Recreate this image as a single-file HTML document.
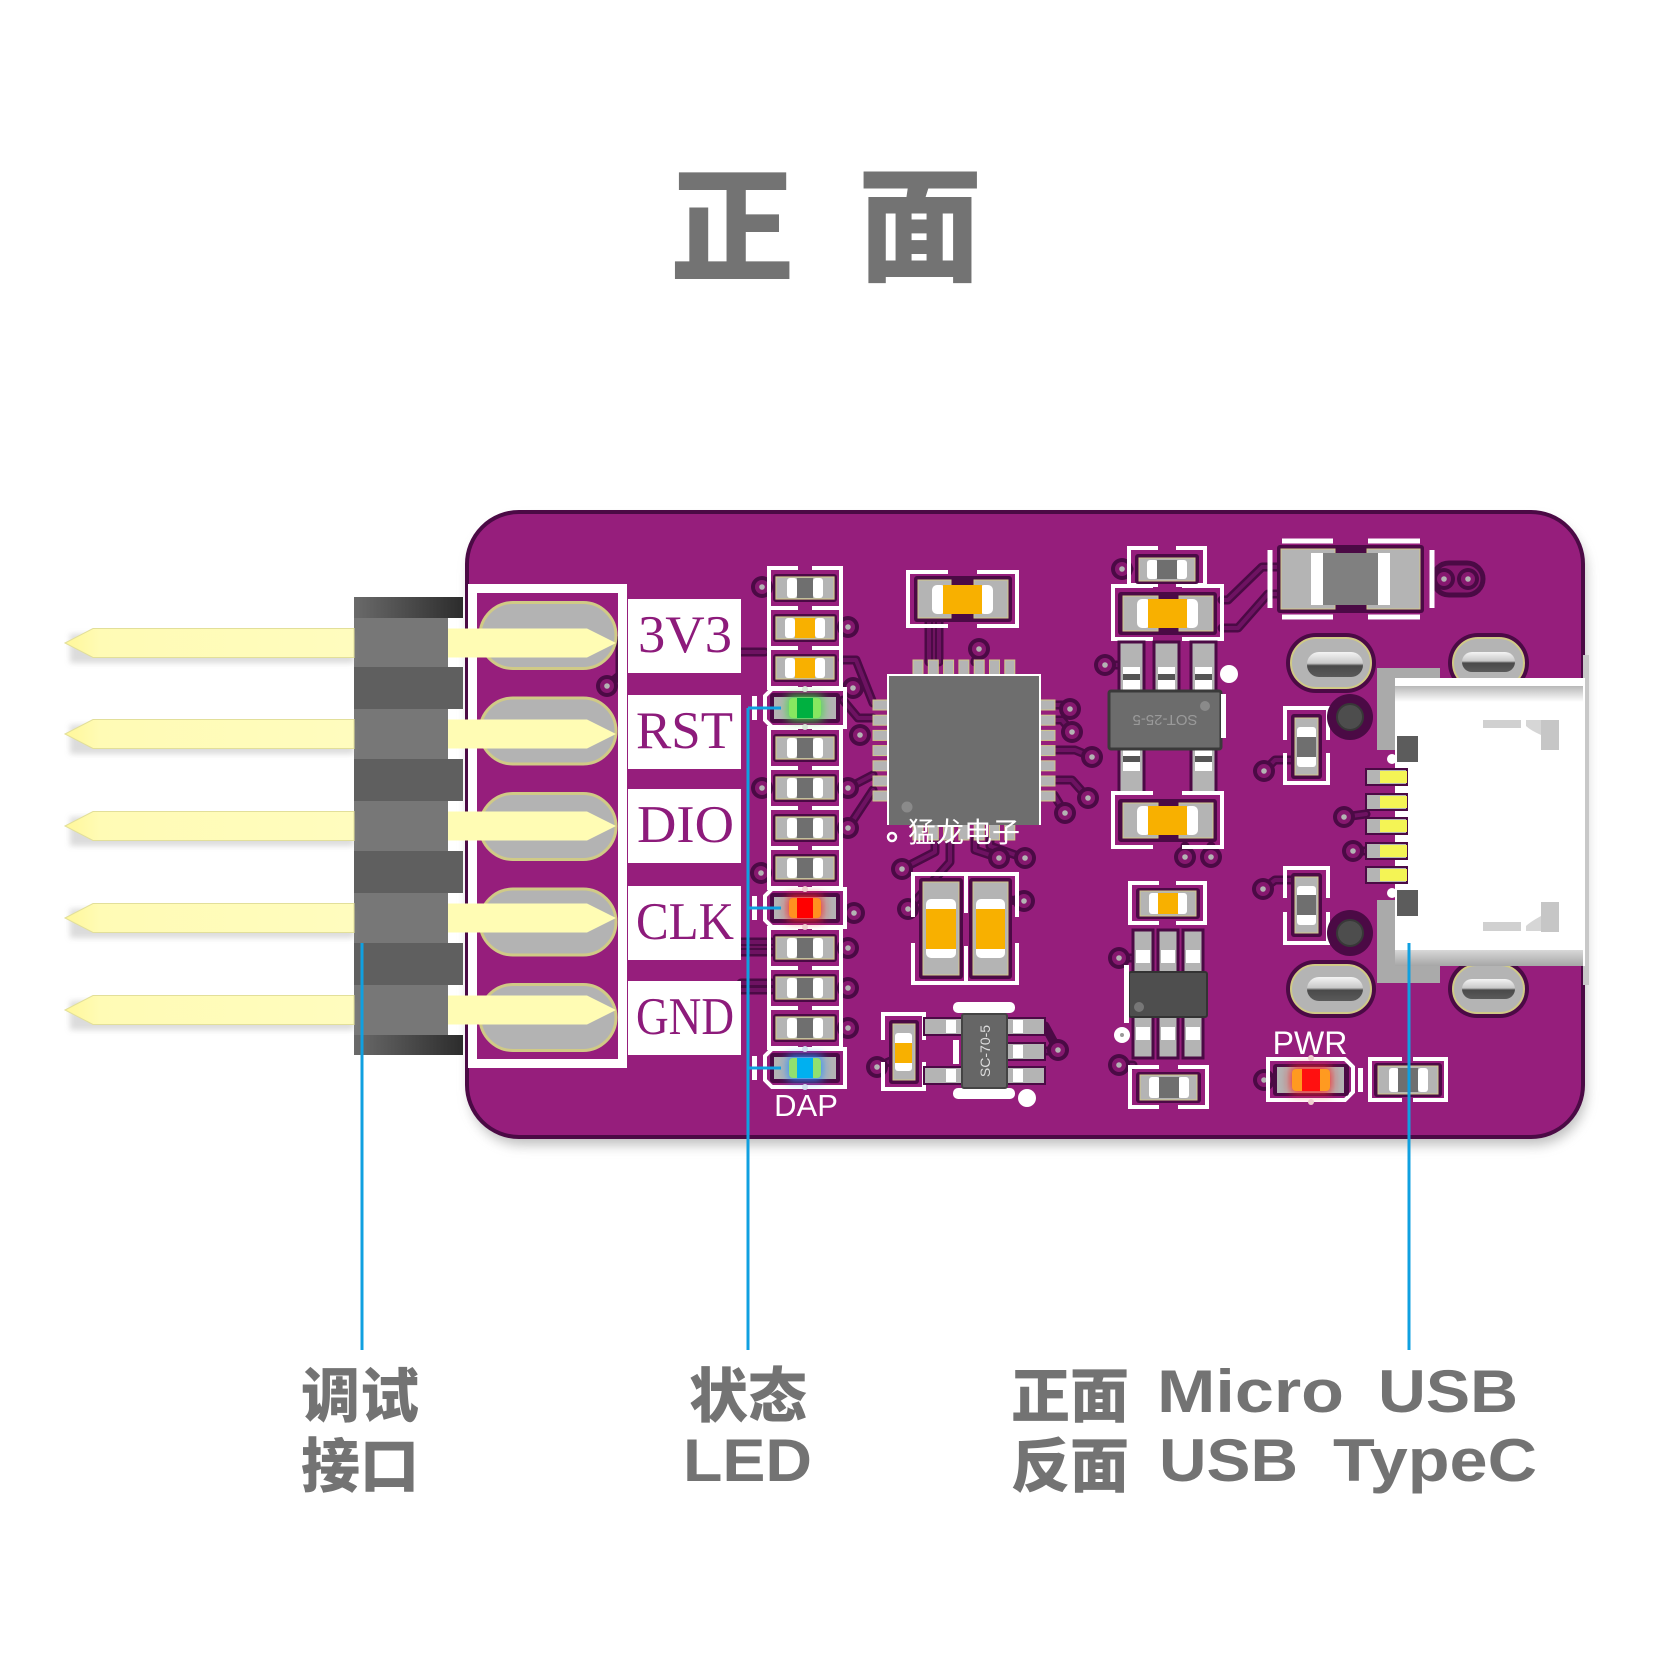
<!DOCTYPE html>
<html><head><meta charset="utf-8">
<style>
html,body{margin:0;padding:0;background:#fff;}
svg{display:block;}
</style></head><body>
<svg width="1653" height="1653" viewBox="0 0 1653 1653" xmlns="http://www.w3.org/2000/svg">
<defs>
 <filter id="blur6" x="-20%" y="-20%" width="140%" height="140%"><feGaussianBlur stdDeviation="6"/></filter>
 <filter id="blur3" x="-20%" y="-50%" width="140%" height="200%"><feGaussianBlur stdDeviation="3"/></filter>
 <filter id="glow" x="-100%" y="-100%" width="300%" height="300%"><feGaussianBlur stdDeviation="5"/></filter>
 <linearGradient id="pinG" x1="0" x2="1" y1="0" y2="0"><stop offset="0" stop-color="#fff799"/><stop offset="0.12" stop-color="#fffbb5"/><stop offset="1" stop-color="#fffcbe"/></linearGradient>
 <linearGradient id="topBlk" x1="0" x2="1" y1="0" y2="0"><stop offset="0" stop-color="#6a6a6a"/><stop offset="1" stop-color="#2c2c2c"/></linearGradient>
 <linearGradient id="slot" x1="0" x2="0" y1="0" y2="1"><stop offset="0" stop-color="#f4f4f4"/><stop offset="0.45" stop-color="#c9c9c9"/><stop offset="0.55" stop-color="#4a4a4a"/><stop offset="1" stop-color="#5a5a5a"/></linearGradient>
 <linearGradient id="usbTop" x1="0" x2="0" y1="0" y2="1"><stop offset="0" stop-color="#b8b8b8"/><stop offset="1" stop-color="#ffffff"/></linearGradient>
 <linearGradient id="usbBot" x1="0" x2="0" y1="0" y2="1"><stop offset="0" stop-color="#d8d8d8"/><stop offset="1" stop-color="#a6a6a6"/></linearGradient>
 <g id="via"><circle r="11" fill="#4b0a45"/><circle r="7" fill="#86186f"/><circle r="2.8" fill="#b4b4b4"/></g>
 <g id="r04">
  <path d="M-7,-20 H-36 V20 H-7 M7,-20 H36 V20 H7" stroke="#fff" stroke-width="4" fill="none"/>
  <rect x="-32" y="-14" width="64" height="28" rx="3" fill="#4b0a45"/>
  <rect x="-29" y="-11" width="58" height="22" fill="#b4b4b4" stroke="#cfc98a" stroke-width="1.2"/>
  <rect x="-18" y="-10" width="10" height="20" rx="3" fill="#fff"/>
  <rect x="8" y="-10" width="10" height="20" rx="3" fill="#fff"/>
  <rect x="-8" y="-10" width="16" height="20" fill="#6f6f6f"/>
 </g>
 <g id="c04">
  <path d="M-7,-20 H-36 V20 H-7 M7,-20 H36 V20 H7" stroke="#fff" stroke-width="4" fill="none"/>
  <rect x="-32" y="-14" width="64" height="28" rx="3" fill="#4b0a45"/>
  <rect x="-29" y="-11" width="58" height="22" fill="#b4b4b4" stroke="#cfc98a" stroke-width="1.2"/>
  <rect x="-20" y="-10" width="10" height="20" rx="3" fill="#fff"/>
  <rect x="10" y="-10" width="10" height="20" rx="3" fill="#fff"/>
  <rect x="-10" y="-10" width="20" height="20" fill="#f8b000"/>
 </g>
 <path id="ledframe" d="M-33,-19 H40 V19 H-33 L-40,12 V-12 Z" stroke="#fff" stroke-width="4" fill="none"/>
</defs>

<!-- Title -->
<text x="732" y="271" font-family="'Noto Sans CJK SC','WenQuanYi Zen Hei',sans-serif" font-weight="900" font-size="124" fill="#737373" text-anchor="middle">正</text>
<text x="920" y="271" font-family="'Noto Sans CJK SC','WenQuanYi Zen Hei',sans-serif" font-weight="900" font-size="124" fill="#737373" text-anchor="middle">面</text>

<!-- Board shadow & board -->
<rect x="470" y="520" width="1116" height="625" rx="52" fill="#8a8a8a" opacity="0.55" filter="url(#blur6)"/>
<rect x="467" y="512" width="1116" height="625" rx="52" fill="#961e7c" stroke="#4b0a45" stroke-width="4"/>

<!-- Traces -->
<g fill="none" stroke-linecap="round" stroke-linejoin="round">
 <g stroke="#4b0a45" stroke-width="9">
  <path d="M929,622 V662 M939,622 V662 M979,649 L975,662"/>
  <path d="M1054,705 H1062 L1070,709 M1054,720 H1062 L1072,732 M1054,750 H1075 L1092,757 M1054,780 H1072 L1088,798 M1054,795 L1065,813"/>
  <path d="M935,840 V852 L902,869 M975,840 V850 L999,858 M990,840 V846 L1024,858 M950,840 V862 L908,909"/>
  <path d="M843,660 H856 L873,703 M843,700 L858,718 H873 M848,788 L873,775 M848,828 L873,790"/>
  <path d="M1122,569 H1129 M1105,665 H1118 M1222,600 H1228 L1262,567 H1282 M1222,628 H1238 L1268,594 H1282"/>
  <path d="M741,942 H772 M741,952 H772 M741,983 H772 M741,990 H772 M741,652 H765"/>
  <path d="M877,1067 L893,1060 M1044,1051 H1058 M1119,958 H1133 M1119,1065 H1133 M1185,857 V846 M1211,857 V846"/>
  <path d="M1264,771 L1275,760 H1295 M1263,889 L1275,880 H1295 M1344,817 L1366,814 M1353,851 H1366"/>
  <path d="M1024,901 L1008,900 M1058,1050 L1045,1026 M607,686 L620,675 V640"/>
 </g>
 <g stroke="#6e1262" stroke-width="4">
  <path d="M929,622 V662 M939,622 V662 M979,649 L975,662"/>
  <path d="M1054,705 H1062 L1070,709 M1054,720 H1062 L1072,732 M1054,750 H1075 L1092,757 M1054,780 H1072 L1088,798 M1054,795 L1065,813"/>
  <path d="M935,840 V852 L902,869 M975,840 V850 L999,858 M990,840 V846 L1024,858 M950,840 V862 L908,909"/>
  <path d="M843,660 H856 L873,703 M843,700 L858,718 H873 M848,788 L873,775 M848,828 L873,790"/>
  <path d="M1122,569 H1129 M1105,665 H1118 M1222,600 H1228 L1262,567 H1282 M1222,628 H1238 L1268,594 H1282"/>
  <path d="M741,942 H772 M741,952 H772 M741,983 H772 M741,990 H772 M741,652 H765"/>
  <path d="M877,1067 L893,1060 M1044,1051 H1058 M1119,958 H1133 M1119,1065 H1133"/>
  <path d="M1264,771 L1275,760 H1295 M1263,889 L1275,880 H1295 M1344,817 L1366,814 M1353,851 H1366"/>
 </g>
 <rect x="1433" y="563" width="50" height="32" rx="16" stroke="#4b0a45" stroke-width="5" fill="#86186f"/>
</g>

<!-- Vias -->
<g>
 <use href="#via" x="762" y="587"/><use href="#via" x="848" y="627"/><use href="#via" x="607" y="686"/>
 <use href="#via" x="853" y="688"/><use href="#via" x="860" y="735"/>
 <use href="#via" x="762" y="788"/><use href="#via" x="848" y="788"/><use href="#via" x="848" y="828"/>
 <use href="#via" x="761" y="873"/><use href="#via" x="854" y="913"/><use href="#via" x="848" y="948"/>
 <use href="#via" x="848" y="988"/><use href="#via" x="848" y="1028"/><use href="#via" x="902" y="869"/>
 <use href="#via" x="999" y="858"/><use href="#via" x="1025" y="858"/><use href="#via" x="908" y="909"/>
 <use href="#via" x="1024" y="901"/><use href="#via" x="877" y="1067"/><use href="#via" x="1058" y="1050"/>
 <use href="#via" x="1119" y="958"/><use href="#via" x="1119" y="1065"/><use href="#via" x="1185" y="857"/>
 <use href="#via" x="1211" y="857"/><use href="#via" x="1122" y="569"/><use href="#via" x="1105" y="665"/>
 <use href="#via" x="979" y="649"/><use href="#via" x="1070" y="709"/><use href="#via" x="1072" y="732"/>
 <use href="#via" x="1092" y="757"/><use href="#via" x="1088" y="798"/><use href="#via" x="1065" y="813"/>
 <use href="#via" x="1444" y="579"/><use href="#via" x="1468" y="579"/><use href="#via" x="1264" y="771"/>
 <use href="#via" x="1344" y="817"/><use href="#via" x="1353" y="851"/><use href="#via" x="1263" y="889"/>
 <use href="#via" x="1264" y="1080"/>
</g>

<!-- Header silkscreen frame & pads -->
<rect x="472.5" y="588.5" width="150" height="475" fill="none" stroke="#fff" stroke-width="9"/>
<g fill="#b3b3b3" stroke="#d0ca86" stroke-width="3">
 <rect x="480" y="602.5" width="136" height="66" rx="33"/>
 <rect x="480" y="698" width="136" height="66" rx="33"/>
 <rect x="480" y="793.5" width="136" height="66" rx="33"/>
 <rect x="480" y="889" width="136" height="66" rx="33"/>
 <rect x="480" y="984.5" width="136" height="66" rx="33"/>
</g>

<!-- Pin labels -->
<g fill="#fff">
 <rect x="628" y="599" width="113" height="74"/>
 <rect x="628" y="695" width="113" height="74"/>
 <rect x="628" y="789" width="113" height="74"/>
 <rect x="628" y="886" width="113" height="74"/>
 <rect x="628" y="981" width="113" height="74"/>
</g>
<g font-family="'Liberation Serif',serif" font-size="53" fill="#8d1b7b">
 <text x="638" y="652" textLength="94" lengthAdjust="spacingAndGlyphs">3V3</text>
 <text x="636" y="748" textLength="97" lengthAdjust="spacingAndGlyphs">RST</text>
 <text x="637" y="842" textLength="97" lengthAdjust="spacingAndGlyphs">DIO</text>
 <text x="636" y="939" textLength="98" lengthAdjust="spacingAndGlyphs">CLK</text>
 <text x="636" y="1034" textLength="98" lengthAdjust="spacingAndGlyphs">GND</text>
</g>

<!-- LED column -->
<g>
 <use href="#r04" x="805" y="588"/>
 <use href="#c04" x="805" y="628"/>
 <use href="#c04" x="805" y="668"/>
 <use href="#r04" x="805" y="748"/>
 <use href="#r04" x="805" y="788"/>
 <use href="#r04" x="805" y="828"/>
 <use href="#r04" x="805" y="868"/>
 <use href="#r04" x="805" y="948"/>
 <use href="#r04" x="805" y="988"/>
 <use href="#r04" x="805" y="1028"/>
</g>
<!-- LEDs -->
<g>
 <use href="#ledframe" x="805" y="708"/>
 <rect x="770" y="693" width="70" height="30" rx="3" fill="#4b0a45"/>
 <rect x="774" y="697" width="62" height="22" fill="#b4b4b4"/>
 <rect x="788" y="696" width="34" height="24" fill="#3ee040" filter="url(#glow)"/>
 <rect x="789" y="698" width="32" height="20" rx="4" fill="#86e860"/>
 <rect x="797" y="698" width="16" height="20" fill="#00b040"/>
 <circle cx="805" cy="689" r="3" fill="#d8e8d8"/><circle cx="805" cy="727" r="3" fill="#d8e8d8"/>
 <rect x="752" y="696" width="5" height="24" fill="#fff"/>

 <use href="#ledframe" x="805" y="908"/>
 <rect x="770" y="893" width="70" height="30" rx="3" fill="#4b0a45"/>
 <rect x="774" y="897" width="62" height="22" fill="#b4b4b4"/>
 <rect x="788" y="896" width="34" height="24" fill="#ff2020" filter="url(#glow)"/>
 <rect x="789" y="898" width="32" height="20" rx="4" fill="#ff9020"/>
 <rect x="797" y="898" width="16" height="20" fill="#ff0000"/>
 <circle cx="805" cy="889" r="3" fill="#f0d0d0"/><circle cx="805" cy="927" r="3" fill="#f0d0d0"/>
 <rect x="752" y="896" width="5" height="24" fill="#fff"/>

 <use href="#ledframe" x="805" y="1068"/>
 <rect x="770" y="1053" width="70" height="30" rx="3" fill="#4b0a45"/>
 <rect x="774" y="1057" width="62" height="22" fill="#b4b4b4"/>
 <rect x="788" y="1056" width="34" height="24" fill="#2090ff" filter="url(#glow)"/>
 <rect x="789" y="1058" width="32" height="20" rx="4" fill="#90e070"/>
 <rect x="797" y="1058" width="16" height="20" fill="#00b0f0"/>
 <circle cx="805" cy="1049" r="3" fill="#d0e0f0"/><circle cx="805" cy="1087" r="3" fill="#d0e0f0"/>
 <rect x="752" y="1056" width="5" height="24" fill="#fff"/>
</g>
<text x="806" y="1116" font-family="'Liberation Sans',sans-serif" font-size="31" fill="#fff" text-anchor="middle">DAP</text>

<!-- Top cap C1 -->
<g>
 <path d="M948,572 H908 V626 H948 M977,572 H1017 V626 H977" stroke="#fff" stroke-width="4" fill="none"/>
 <rect x="914" y="576" width="98" height="46" rx="3" fill="#4b0a45"/>
 <rect x="918" y="580" width="33" height="38" fill="#b4b4b4" stroke="#cfc98a"/>
 <rect x="974" y="580" width="34" height="38" fill="#b4b4b4" stroke="#cfc98a"/>
 <rect x="932" y="585" width="14" height="29" rx="5" fill="#fff"/>
 <rect x="979" y="585" width="14" height="29" rx="5" fill="#fff"/>
 <rect x="943" y="585" width="39" height="29" fill="#f8b000"/>
</g>

<!-- QFN -->
<g>
 <g fill="#b4b4b4" stroke="#cfc98a" stroke-width="1">
  <rect x="913" y="660" width="10" height="16"/><rect x="928.3" y="660" width="10" height="16"/><rect x="943.6" y="660" width="10" height="16"/><rect x="958.9" y="660" width="10" height="16"/><rect x="974.2" y="660" width="10" height="16"/><rect x="989.5" y="660" width="10" height="16"/><rect x="1004.8" y="660" width="10" height="16"/>
  <rect x="913" y="824" width="10" height="16"/><rect x="928.3" y="824" width="10" height="16"/><rect x="943.6" y="824" width="10" height="16"/><rect x="958.9" y="824" width="10" height="16"/><rect x="974.2" y="824" width="10" height="16"/><rect x="989.5" y="824" width="10" height="16"/><rect x="1004.8" y="824" width="10" height="16"/>
  <rect x="873" y="700" width="16" height="10"/><rect x="873" y="715.2" width="16" height="10"/><rect x="873" y="730.4" width="16" height="10"/><rect x="873" y="745.6" width="16" height="10"/><rect x="873" y="760.8" width="16" height="10"/><rect x="873" y="776" width="16" height="10"/><rect x="873" y="791" width="16" height="10"/>
  <rect x="1039" y="700" width="16" height="10"/><rect x="1039" y="715.2" width="16" height="10"/><rect x="1039" y="730.4" width="16" height="10"/><rect x="1039" y="745.6" width="16" height="10"/><rect x="1039" y="760.8" width="16" height="10"/><rect x="1039" y="776" width="16" height="10"/><rect x="1039" y="791" width="16" height="10"/>
 </g>
 <rect x="888" y="675" width="152" height="150" fill="#6e6e6e"/>
 <path d="M888,825 V675 H1040 V825" stroke="#fff" stroke-width="2" fill="none"/>
 <circle cx="907" cy="807" r="5.5" fill="#8a8a8a"/>
 <circle cx="892" cy="837" r="4" fill="none" stroke="#fff" stroke-width="2.5"/>
 <text x="908" y="842" font-family="'Noto Sans CJK SC',sans-serif" font-size="28" fill="#fff">猛龙电子</text>
</g>

<!-- Twin caps -->
<g>
 <path d="M913,917 V874 H1017 V917 M913,943 V983 H1017 V943 M966,876 V913 M966,946 V981" stroke="#fff" stroke-width="4" fill="none"/>
 <rect x="919" y="878" width="44" height="101" rx="3" fill="#4b0a45"/>
 <rect x="969" y="878" width="43" height="101" rx="3" fill="#4b0a45"/>
 <rect x="923" y="882" width="36" height="93" fill="#b4b4b4" stroke="#cfc98a"/>
 <rect x="973" y="882" width="35" height="93" fill="#b4b4b4" stroke="#cfc98a"/>
 <rect x="926" y="899" width="30" height="59" rx="5" fill="#fff"/>
 <rect x="976" y="899" width="29" height="59" rx="5" fill="#fff"/>
 <rect x="926" y="909" width="30" height="40" fill="#f8b000"/>
 <rect x="976" y="909" width="29" height="40" fill="#f8b000"/>
</g>

<!-- Small vertical cap + SC-70-5 -->
<g>
 <path d="M883,1040 V1014 H924 V1040 M883,1062 V1089 H924 V1062" stroke="#fff" stroke-width="4" fill="none"/>
 <rect x="889" y="1020" width="30" height="64" rx="3" fill="#4b0a45"/>
 <rect x="893" y="1024" width="22" height="56" fill="#b4b4b4" stroke="#cfc98a"/>
 <rect x="895" y="1033" width="17" height="38" rx="3" fill="#fff"/>
 <rect x="895" y="1043" width="17" height="20" fill="#f8b000"/>

 <rect x="953" y="1002" width="62" height="11" rx="5" fill="#fff"/>
 <rect x="953" y="1088" width="62" height="11" rx="5" fill="#fff"/>
 <rect x="953" y="1040" width="6" height="24" fill="#fff"/>
 <g fill="#b4b4b4" stroke="#4b0a45" stroke-width="2">
  <rect x="924" y="1018" width="40" height="17"/>
  <rect x="924" y="1067" width="40" height="17"/>
  <rect x="1005" y="1018" width="40" height="17"/>
  <rect x="1005" y="1043" width="40" height="17"/>
  <rect x="1005" y="1067" width="40" height="17"/>
 </g>
 <g fill="#fff">
  <rect x="946" y="1020" width="10" height="13"/><rect x="946" y="1069" width="10" height="13"/>
  <rect x="1013" y="1020" width="10" height="13"/><rect x="1013" y="1045" width="10" height="13"/><rect x="1013" y="1069" width="10" height="13"/>
 </g>
 <rect x="962" y="1014" width="45" height="74" rx="2" fill="#666" stroke="#444" stroke-width="2"/>
 <text x="0" y="0" transform="translate(990,1051) rotate(-90)" font-family="'Liberation Sans',sans-serif" font-size="14" fill="#ddd" text-anchor="middle">SC-70-5</text>
 <circle cx="1027" cy="1098" r="9" fill="#fff"/>
</g>

<!-- SOT column -->
<g>
 <path d="M1158,548 H1129 V585 H1158 M1176,548 H1205 V585 H1176" stroke="#fff" stroke-width="4" fill="none"/>
 <rect x="1135" y="554" width="64" height="30" rx="3" fill="#4b0a45"/>
 <rect x="1139" y="558" width="56" height="23" fill="#b4b4b4" stroke="#cfc98a"/>
 <rect x="1147" y="560" width="11" height="19" rx="3" fill="#fff"/>
 <rect x="1176" y="560" width="11" height="19" rx="3" fill="#fff"/>
 <rect x="1157" y="560" width="20" height="19" fill="#6f6f6f"/>

 <path d="M1153,586 H1113 V639 H1153 M1182,586 H1222 V639 H1182" stroke="#fff" stroke-width="4" fill="none"/>
 <rect x="1118" y="592" width="99" height="43" rx="3" fill="#4b0a45"/>
 <rect x="1123" y="596" width="35" height="35" fill="#b4b4b4" stroke="#cfc98a"/>
 <rect x="1179" y="596" width="34" height="35" fill="#b4b4b4" stroke="#cfc98a"/>
 <rect x="1137" y="599" width="14" height="29" rx="5" fill="#fff"/>
 <rect x="1184" y="599" width="14" height="29" rx="5" fill="#fff"/>
 <rect x="1148" y="599" width="39" height="29" fill="#f8b000"/>

 <g fill="#b4b4b4" stroke="#4b0a45" stroke-width="3">
  <rect x="1119" y="642" width="25" height="50"/><rect x="1154" y="642" width="25" height="50"/><rect x="1191" y="642" width="25" height="50"/>
  <rect x="1119" y="748" width="25" height="45"/><rect x="1191" y="748" width="25" height="45"/>
 </g>
 <g>
  <rect x="1123" y="667" width="17" height="24" fill="#fff"/><rect x="1123" y="674" width="17" height="6" fill="#555"/>
  <rect x="1158" y="667" width="17" height="24" fill="#fff"/><rect x="1158" y="674" width="17" height="6" fill="#555"/>
  <rect x="1195" y="667" width="17" height="24" fill="#fff"/><rect x="1195" y="674" width="17" height="6" fill="#555"/>
  <rect x="1123" y="749" width="17" height="22" fill="#fff"/><rect x="1123" y="756" width="17" height="6" fill="#555"/>
  <rect x="1195" y="749" width="17" height="22" fill="#fff"/><rect x="1195" y="756" width="17" height="6" fill="#555"/>
 </g>
 <rect x="1109" y="691" width="112" height="58" rx="2" fill="#6c6c6c" stroke="#3a3a3a" stroke-width="3"/>
 <circle cx="1205" cy="706" r="5" fill="#8a8a8a"/>
 <text x="0" y="0" transform="translate(1165,715) rotate(180)" font-family="'Liberation Sans',sans-serif" font-size="15" fill="#9a9a9a" text-anchor="middle">SOT-25-5</text>
 <rect x="1221" y="694" width="5" height="44" fill="#fff"/>
 <circle cx="1229" cy="674" r="9" fill="#fff"/>

 <path d="M1153,793 H1113 V847 H1153 M1182,793 H1222 V847 H1182" stroke="#fff" stroke-width="4" fill="none"/>
 <rect x="1118" y="799" width="99" height="43" rx="3" fill="#4b0a45"/>
 <rect x="1123" y="803" width="35" height="35" fill="#b4b4b4" stroke="#cfc98a"/>
 <rect x="1179" y="803" width="34" height="35" fill="#b4b4b4" stroke="#cfc98a"/>
 <rect x="1137" y="806" width="14" height="29" rx="5" fill="#fff"/>
 <rect x="1184" y="806" width="14" height="29" rx="5" fill="#fff"/>
 <rect x="1148" y="806" width="39" height="29" fill="#f8b000"/>
</g>

<!-- small cap, SOT-23-6, bottom R -->
<g>
 <path d="M1159,883 H1130 V923 H1159 M1176,883 H1205 V923 H1176" stroke="#fff" stroke-width="4" fill="none"/>
 <rect x="1136" y="888" width="64" height="31" rx="3" fill="#4b0a45"/>
 <rect x="1140" y="891" width="56" height="25" fill="#b4b4b4" stroke="#cfc98a"/>
 <rect x="1149" y="893" width="11" height="21" rx="3" fill="#fff"/>
 <rect x="1176" y="893" width="11" height="21" rx="3" fill="#fff"/>
 <rect x="1158" y="893" width="20" height="21" fill="#f8b000"/>

 <g fill="#b4b4b4" stroke="#4b0a45" stroke-width="3">
  <rect x="1133" y="930" width="20" height="43"/><rect x="1158" y="930" width="20" height="43"/><rect x="1183" y="930" width="20" height="43"/>
  <rect x="1133" y="1016" width="20" height="42"/><rect x="1158" y="1016" width="20" height="42"/><rect x="1183" y="1016" width="20" height="42"/>
 </g>
 <g fill="#fff">
  <rect x="1136" y="950" width="14" height="13"/><rect x="1161" y="950" width="14" height="13"/><rect x="1186" y="950" width="14" height="13"/>
  <rect x="1136" y="1027" width="14" height="13"/><rect x="1161" y="1027" width="14" height="13"/><rect x="1186" y="1027" width="14" height="13"/>
 </g>
 <rect x="1129" y="972" width="78" height="45" rx="2" fill="#4e4e4e" stroke="#333" stroke-width="2"/>
 <circle cx="1139" cy="1007" r="5" fill="#777"/>
 <rect x="1124" y="965" width="5" height="58" fill="#fff"/>
 <circle cx="1122" cy="1035" r="8" fill="#fff"/><circle cx="1122" cy="1035" r="2" fill="#999"/>

 <path d="M1159,1067 H1130 V1107 H1159 M1178,1067 H1207 V1107 H1178" stroke="#fff" stroke-width="4" fill="none"/>
 <rect x="1136" y="1072" width="65" height="31" rx="3" fill="#4b0a45"/>
 <rect x="1140" y="1075" width="57" height="25" fill="#b4b4b4" stroke="#cfc98a"/>
 <rect x="1149" y="1077" width="11" height="21" rx="3" fill="#fff"/>
 <rect x="1178" y="1077" width="11" height="21" rx="3" fill="#fff"/>
 <rect x="1159" y="1077" width="20" height="21" fill="#6f6f6f"/>
</g>

<!-- Inductor top right -->
<g>
 <path d="M1282,541 H1333 M1368,541 H1420 M1282,617 H1333 M1368,617 H1420" stroke="#fff" stroke-width="5"/>
 <path d="M1270,550 V608 M1432,550 V608" stroke="#fff" stroke-width="5"/>
 <rect x="1277" y="545" width="147" height="68" rx="3" fill="#4b0a45"/>
 <rect x="1281" y="549" width="54" height="60" fill="#b4b4b4" stroke="#cfc98a"/>
 <rect x="1367" y="549" width="53" height="60" fill="#b4b4b4" stroke="#cfc98a"/>
 <rect x="1311" y="553" width="79" height="52" fill="#fff"/>
 <rect x="1323" y="553" width="55" height="52" fill="#808080"/>
</g>

<!-- Vertical resistors near USB -->
<g>
 <path d="M1285,740 V708 H1328 V740 M1285,753 V783 H1328 V753" stroke="#fff" stroke-width="4" fill="none"/>
 <rect x="1291" y="714" width="31" height="65" rx="3" fill="#4b0a45"/>
 <rect x="1295" y="718" width="23" height="57" fill="#b4b4b4" stroke="#cfc98a"/>
 <rect x="1297" y="727" width="19" height="40" rx="3" fill="#fff"/>
 <rect x="1297" y="737" width="19" height="20" fill="#6f6f6f"/>

 <path d="M1285,898 V868 H1328 V898 M1285,912 V943 H1328 V912" stroke="#fff" stroke-width="4" fill="none"/>
 <rect x="1291" y="873" width="31" height="64" rx="3" fill="#4b0a45"/>
 <rect x="1295" y="877" width="23" height="56" fill="#b4b4b4" stroke="#cfc98a"/>
 <rect x="1297" y="886" width="19" height="39" rx="3" fill="#fff"/>
 <rect x="1297" y="895" width="19" height="20" fill="#6f6f6f"/>
</g>

<!-- Mounting slots -->
<g>
 <g fill="#4b0a45">
  <rect x="1286" y="633" width="90" height="60" rx="30"/>
  <rect x="1448" y="633" width="81" height="60" rx="30"/>
  <rect x="1286" y="960" width="90" height="58" rx="29"/>
  <rect x="1448" y="960" width="81" height="58" rx="29"/>
  <circle cx="1350" cy="717" r="23"/><circle cx="1350" cy="933" r="23"/>
 </g>
 <g fill="#b4b4b4" stroke="#d0ca86" stroke-width="2">
  <rect x="1291" y="638" width="80" height="50" rx="25"/>
  <rect x="1453" y="638" width="71" height="50" rx="25"/>
  <rect x="1291" y="965" width="80" height="48" rx="24"/>
  <rect x="1453" y="965" width="71" height="48" rx="24"/>
 </g>
 <g fill="url(#slot)">
  <rect x="1307" y="652" width="56" height="25" rx="12"/>
  <rect x="1462" y="652" width="53" height="20" rx="10"/>
  <rect x="1307" y="977" width="56" height="24" rx="12"/>
  <rect x="1462" y="979" width="53" height="20" rx="10"/>
 </g>
 <circle cx="1350" cy="717" r="13" fill="#4d4d4d" stroke="#383838" stroke-width="2"/>
 <circle cx="1350" cy="933" r="13" fill="#4d4d4d" stroke="#383838" stroke-width="2"/>
</g>

<!-- USB connector -->
<g>
 <rect x="1377" y="668" width="63" height="18" fill="#aaa"/>
 <rect x="1377" y="668" width="18" height="82" fill="#aaa"/>
 <rect x="1377" y="900" width="18" height="83" fill="#aaa"/>
 <rect x="1377" y="960" width="63" height="23" fill="#aaa"/>
 <rect x="1583" y="655" width="6" height="330" fill="#c8c8c8"/>
 <rect x="1395" y="678" width="190" height="288" fill="#fff"/>
 <rect x="1395" y="686" width="188" height="16" fill="url(#usbTop)"/>
 <rect x="1395" y="950" width="188" height="16" fill="url(#usbBot)"/>
 <g fill="#b4b4b4" stroke="#4b0a45" stroke-width="2">
  <rect x="1366" y="769" width="41" height="16"/><rect x="1366" y="794" width="41" height="16"/><rect x="1366" y="818" width="41" height="16"/><rect x="1366" y="843" width="41" height="16"/><rect x="1366" y="867" width="41" height="16"/>
 </g>
 <g fill="#f4f455">
  <rect x="1380" y="771" width="27" height="12"/><rect x="1380" y="796" width="27" height="12"/><rect x="1380" y="820" width="27" height="12"/><rect x="1380" y="845" width="27" height="12"/><rect x="1380" y="869" width="27" height="12"/>
 </g>
 <rect x="1397" y="736" width="21" height="26" fill="#5c5c5c"/>
 <rect x="1397" y="890" width="21" height="26" fill="#5c5c5c"/>
 <circle cx="1392" cy="759" r="5" fill="#fff"/><circle cx="1392" cy="893" r="5" fill="#fff"/>
 <rect x="1483" y="720" width="38" height="8" fill="#d0d0d0"/>
 <rect x="1541" y="720" width="18" height="30" fill="#c6c6c6"/>
 <path d="M1526,720 H1541 V735 Q1530,730 1526,726 Z" fill="#d6d6d6"/>
 <rect x="1483" y="922" width="38" height="9" fill="#d0d0d0"/>
 <rect x="1541" y="902" width="18" height="30" fill="#c6c6c6"/>
 <path d="M1526,931 H1541 V916 Q1530,922 1526,926 Z" fill="#d6d6d6"/>
</g>

<!-- PWR LED and R -->
<g>
 <text x="1310" y="1054" font-family="'Liberation Sans',sans-serif" font-size="32" fill="#fff" text-anchor="middle">PWR</text>
 <path d="M1268,1059 H1345 L1353,1067 V1092 L1345,1100 H1268 Z" stroke="#fff" stroke-width="4" fill="none"/>
 <rect x="1273" y="1064" width="76" height="32" rx="3" fill="#4b0a45"/>
 <rect x="1277" y="1067" width="67" height="26" fill="#b4b4b4"/>
 <rect x="1291" y="1067" width="40" height="26" fill="#ff2020" filter="url(#glow)"/>
 <rect x="1292" y="1069" width="38" height="22" rx="4" fill="#ff9a20"/>
 <rect x="1302" y="1069" width="18" height="22" fill="#ff1010"/>
 <circle cx="1311" cy="1058" r="3" fill="#f0d0d0"/><circle cx="1311" cy="1102" r="3" fill="#f0d0d0"/>
 <rect x="1358" y="1068" width="5" height="24" fill="#fff"/>
 <path d="M1402,1059 H1370 V1100 H1402 M1413,1059 H1446 V1100 H1413" stroke="#fff" stroke-width="4" fill="none"/>
 <rect x="1374" y="1063" width="68" height="34" rx="3" fill="#4b0a45"/>
 <rect x="1378" y="1066" width="60" height="28" fill="#b4b4b4" stroke="#cfc98a"/>
 <rect x="1389" y="1068" width="10" height="24" rx="3" fill="#fff"/>
 <rect x="1418" y="1068" width="10" height="24" rx="3" fill="#fff"/>
 <rect x="1398" y="1068" width="20" height="24" fill="#6f6f6f"/>
</g>

<!-- Header plastic -->
<g>
 <rect x="354" y="597" width="94" height="458" fill="#777"/>
 <rect x="354" y="597" width="109" height="21" fill="url(#topBlk)"/>
 <rect x="354" y="1035" width="109" height="20" fill="url(#topBlk)"/>
 <rect x="354" y="667" width="109" height="42" fill="#5f5f5f"/>
 <rect x="354" y="759" width="109" height="42" fill="#5f5f5f"/>
 <rect x="354" y="851" width="109" height="42" fill="#5f5f5f"/>
 <rect x="354" y="943" width="109" height="42" fill="#5f5f5f"/>
</g>

<!-- Pins -->
<g>
 <g fill="#9a9a9a" opacity="0.35" filter="url(#blur3)">
  <rect x="70" y="634" width="284" height="29"/><rect x="70" y="725" width="284" height="29"/><rect x="70" y="817" width="284" height="29"/><rect x="70" y="909" width="284" height="29"/><rect x="70" y="1001" width="284" height="29"/>
 </g>
 <g fill="url(#pinG)" stroke="#e2df9a" stroke-width="1">
  <polygon points="65,643 93,628.5 354,628.5 354,657.5 93,657.5"/>
  <polygon points="65,734 93,719.5 354,719.5 354,748.5 93,748.5"/>
  <polygon points="65,826 93,811.5 354,811.5 354,840.5 93,840.5"/>
  <polygon points="65,918 93,903.5 354,903.5 354,932.5 93,932.5"/>
  <polygon points="65,1010 93,995.5 354,995.5 354,1024.5 93,1024.5"/>
 </g>
 <g fill="#fffcb4">
  <polygon points="448,628.5 587,628.5 616,643 587,657.5 448,657.5"/>
  <polygon points="448,719.5 587,719.5 616,734 587,748.5 448,748.5"/>
  <polygon points="448,811.5 587,811.5 616,826 587,840.5 448,840.5"/>
  <polygon points="448,903.5 587,903.5 616,918 587,932.5 448,932.5"/>
  <polygon points="448,995.5 587,995.5 616,1010 587,1024.5 448,1024.5"/>
 </g>
</g>

<!-- Callout lines -->
<g stroke="#10a0e0" stroke-width="3" fill="none">
 <path d="M362,943 V1350"/>
 <path d="M748,708 V1350 M748,708 H781 M748,908 H781 M748,1068 H781"/>
 <path d="M1409,943 V1350"/>
</g>

<!-- Bottom labels -->
<g font-family="'Noto Sans CJK SC','WenQuanYi Zen Hei',sans-serif" font-weight="900" font-size="59" fill="#737373">
 <text x="360" y="1417" text-anchor="middle">调试</text>
 <text x="360" y="1487" text-anchor="middle">接口</text>
 <text x="748" y="1417" text-anchor="middle">状态</text>
 <text x="1011" y="1417">正面</text>
 <text x="1011" y="1487">反面</text>
</g>
<g font-family="'Liberation Sans',sans-serif" font-weight="bold" font-size="60" fill="#737373">
 <text x="683" y="1481" textLength="129" lengthAdjust="spacingAndGlyphs">LED</text>
 <text x="1157" y="1412" textLength="187" lengthAdjust="spacingAndGlyphs">Micro</text>
 <text x="1378" y="1412" textLength="140" lengthAdjust="spacingAndGlyphs">USB</text>
 <text x="1159" y="1481" textLength="139" lengthAdjust="spacingAndGlyphs">USB</text>
 <text x="1333" y="1481" textLength="204" lengthAdjust="spacingAndGlyphs">TypeC</text>
</g>
</svg>
</body></html>
